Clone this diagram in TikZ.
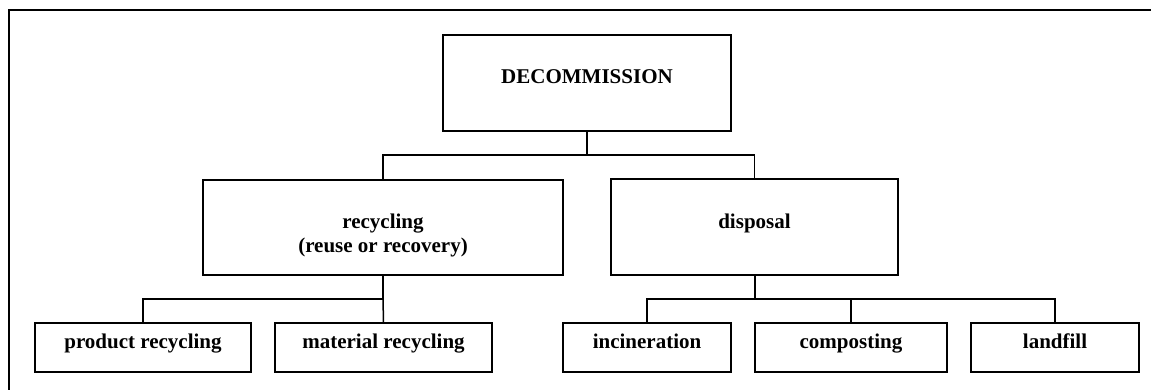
\documentclass[tikz,border=0pt]{standalone}
\usepackage{fontspec}
\setmainfont{Liberation Serif}
\begin{document}
\begin{tikzpicture}[x=1pt,y=-1pt,
  box/.style={draw=black,line width=1.5pt,rectangle,inner sep=0pt,fill=none},
  lbl/.style={anchor=base,inner sep=0pt,font=\fontsize{21}{25}\selectfont\bfseries},
  conn/.style={draw=black,line width=1.5pt}]
\useasboundingbox (0,0) rectangle (1151,389);
% frame (open to the right and bottom)
\draw[line width=1.6pt] (9,400) -- (9,10) -- (1160,10);
% boxes
\node[box,minimum width=288pt,minimum height=96pt] (dec) at (587,83) {};
\node[box,minimum width=360pt,minimum height=95pt] (rec) at (383,227.5) {};
\node[box,minimum width=287pt,minimum height=96pt] (dis) at (754.5,227) {};
\node[box,minimum width=216pt,minimum height=49pt] (prod) at (143,347.5) {};
\node[box,minimum width=217pt,minimum height=49pt] (mat) at (383.5,347.5) {};
\node[box,minimum width=168pt,minimum height=49pt] (inc) at (647,347.5) {};
\node[box,minimum width=192pt,minimum height=49pt] (comp) at (851,347.5) {};
\node[box,minimum width=168pt,minimum height=49pt] (land) at (1055,347.5) {};
% labels
\node[lbl] (tdec) at (587,83) {DECOMMISSION};
\node[lbl] (trec1) at (383,228) {recycling};
\node[lbl] (trec2) at (383,252) {(reuse or recovery)};
\node[lbl] (tdis) at (754.5,228) {disposal};
\node[lbl] (tprod) at (143,348) {product recycling};
\node[lbl] (tmat) at (383.5,348) {material recycling};
\node[lbl] (tinc) at (647,348) {incineration};
\node[lbl] (tcomp) at (851,348) {composting};
\node[lbl] (tland) at (1055,348) {landfill};
% connectors
\coordinate (j1) at (587,155);
\coordinate (j2) at (383,299);
\coordinate (j3) at (754.5,299);
\draw[conn,line width=2pt] (dec.south) -- (j1);
\draw[conn] (rec.north) |- (j1) -| (dis.north);
\draw[conn,line width=2pt] (rec.south) -- (j2);
\draw[conn] (j2) -- (mat.north);
\draw[conn] (prod.north) |- (j2);
\draw[conn,line width=2pt] (dis.south) -- (j3);
\draw[conn] (inc.north) |- (j3) -| (land.north);
\draw[conn] (comp.north) -- (comp.north |- j3);
\end{tikzpicture}
\end{document}
